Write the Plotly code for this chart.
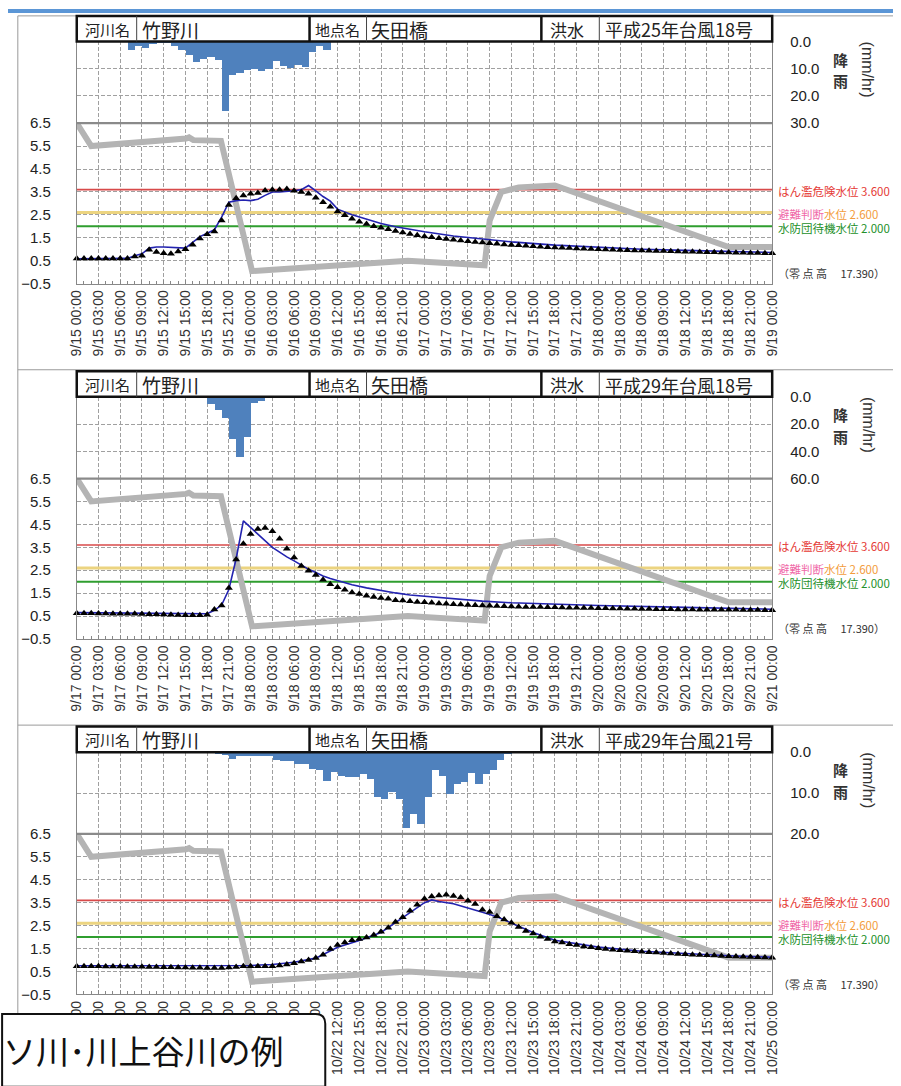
import plotly.graph_objects as go

W, H = 901, 1086

# ---------------- data ----------------
hours_axis = list(range(0, 97, 3))
panel_dates = [(9, 15), (9, 17), (10, 21)]
tick_labels = [[f"{m}/{d + h // 24:02d} {h % 24:02d}:00" for h in hours_axis] for (m, d) in panel_dates]

river_label, river_name = "河川名", "竹野川"
station_label, station_name = "地点名", "矢田橋"
flood_label = "洪水"
flood_names = ["平成25年台風18号", "平成29年台風18号", "平成29年台風21号"]
rain_max = [30, 60, 20]
rain_dtick = [10, 20, 10]

threshold_levels = [3.6, 2.6, 2.0]
threshold_names = ["はん濫危険水位", "避難判断水位", "水防団待機水位"]
zero_height = "17.390"

# hourly rainfall (mm/hr), hour index from panel start
rain1_hours = [7, 8, 9, 10, 11, 12, 13, 14, 15, 16, 17, 18, 19, 20, 21, 22, 23, 24, 25, 26, 27, 28, 29, 30, 31, 32, 33, 34]
rain1_mm = [3.2, 1.7, 2.6, 1.0, 0.5, 0.5, 2.0, 3.2, 5.0, 7.6, 6.7, 6.0, 7.0, 25.8, 12.5, 11.9, 10.7, 10.4, 10.9, 10.4,
            7.2, 9.2, 10.0, 8.8, 9.4, 3.9, 2.0, 3.2]
rain2_hours = [18, 19, 20, 21, 22, 23, 24, 25]
rain2_mm = [4.8, 9.2, 15.2, 30.8, 44.1, 29.6, 4.3, 3.1]
rain3_hours = list(range(19, 60))
rain3_mm = [0.3, 0.8, 1.6, 1.1, 1.1, 1.1, 1.1, 1.1, 1.9, 2.1, 2.1, 2.9, 2.9, 4.1, 4.4, 7.0, 4.9, 5.8, 6.0, 6.0,
            5.3, 6.6, 11.1, 11.5, 9.9, 11.4, 18.5, 15.2, 17.7, 11.1, 4.5, 5.8, 10.3, 7.8, 7.4, 5.2, 7.8, 5.5, 4.4, 1.9, 0.3]

# observed water level (hourly, triangles)
obs_hours = list(range(0, 97))
obs1 = [0.60, 0.60, 0.60, 0.60, 0.60, 0.60, 0.60, 0.60, 0.68, 0.72, 0.98, 0.88, 0.82, 0.80, 0.90, 1.00, 1.20, 1.47,
        1.65, 1.77, 2.25, 2.93, 3.22, 3.35, 3.42, 3.45, 3.56, 3.60, 3.60, 3.63, 3.55, 3.50, 3.42, 3.25, 3.05, 2.85,
        2.65, 2.48, 2.33, 2.20, 2.10, 2.00, 1.94, 1.87, 1.80, 1.73, 1.67, 1.61, 1.56, 1.52, 1.48, 1.45, 1.41, 1.38,
        1.35, 1.32, 1.29, 1.26, 1.24, 1.21, 1.19, 1.17, 1.15, 1.13, 1.11, 1.09, 1.08, 1.06, 1.05, 1.03, 1.02, 1.01,
        1.00, 0.99, 0.98, 0.97, 0.96, 0.95, 0.94, 0.93, 0.92, 0.92, 0.91, 0.90, 0.89, 0.89, 0.88, 0.87, 0.87, 0.86,
        0.86, 0.85, 0.85, 0.84, 0.84, 0.83, 0.83]
obs2 = [0.62, 0.62, 0.62, 0.61, 0.61, 0.60, 0.60, 0.60, 0.60, 0.59, 0.58, 0.58, 0.57, 0.56, 0.55,
        0.54, 0.54, 0.54, 0.56,
        0.79, 0.96, 1.72, 2.97, 3.65, 4.08, 4.30, 4.34, 4.20, 3.87, 3.44, 3.05, 2.68, 2.48, 2.29, 2.08, 1.89, 1.76,
        1.65, 1.53, 1.46, 1.39, 1.33, 1.29, 1.25, 1.19, 1.18, 1.15, 1.11, 1.10, 1.08, 1.05, 1.04, 1.01, 1.00, 0.98, 0.97,
        0.96, 0.95, 0.94, 0.93, 0.92, 0.91, 0.90, 0.90, 0.89, 0.88, 0.88, 0.87, 0.86, 0.86, 0.85, 0.85, 0.84, 0.84,
        0.83, 0.83, 0.82, 0.82, 0.81, 0.81, 0.80, 0.80, 0.80, 0.79, 0.79, 0.79, 0.78, 0.78, 0.78, 0.77, 0.77, 0.77,
        0.76, 0.76, 0.76, 0.75, 0.75]
obs3 = [0.72, 0.72, 0.72, 0.72, 0.71, 0.71, 0.71, 0.70, 0.70, 0.70, 0.69, 0.69, 0.68, 0.68, 0.67, 0.67, 0.66, 0.66,
        0.65, 0.65, 0.65, 0.67, 0.69, 0.72, 0.72, 0.72, 0.72, 0.73, 0.76, 0.80, 0.86, 0.93, 1.00, 1.09, 1.23, 1.48,
        1.65, 1.76, 1.86, 1.91, 1.98, 2.09, 2.23, 2.41, 2.66, 2.86, 3.15, 3.41, 3.67, 3.77, 3.81, 3.84, 3.79, 3.72,
        3.58, 3.44, 3.19, 3.09, 2.91, 2.76, 2.62, 2.44, 2.26, 2.15, 2.01, 1.91, 1.81, 1.76, 1.69, 1.65, 1.59, 1.55,
        1.51, 1.48, 1.45, 1.42, 1.40, 1.38, 1.36, 1.34, 1.32, 1.30, 1.28, 1.26, 1.25, 1.23, 1.22, 1.20, 1.19, 1.17,
        1.16, 1.15, 1.14, 1.13, 1.12, 1.11, 1.10]

# calculated water level (blue line)
calc1_hours = [0, 7, 8, 9, 10, 11, 12, 13, 14, 15, 16, 17, 18, 19, 20, 21, 22, 23, 24, 25, 26, 27, 28, 29, 30, 31, 32,
               33, 34, 35, 36, 38, 40, 42, 44, 46, 48, 52, 56, 60, 66, 72, 78, 84, 90, 96]
calc1_level = [0.58, 0.60, 0.72, 0.80, 1.05, 1.10, 1.10, 1.08, 1.05, 1.05, 1.30, 1.55, 1.70, 1.85, 2.40, 3.05, 3.12,
               3.15, 3.12, 3.18, 3.35, 3.50, 3.50, 3.52, 3.55, 3.60, 3.78, 3.55, 3.30, 3.10, 2.75, 2.50, 2.30, 2.12,
               1.98, 1.86, 1.76, 1.58, 1.44, 1.32, 1.18, 1.08, 1.00, 0.95, 0.90, 0.86]
calc2_hours = [0, 14, 18, 19, 20, 21, 22, 23, 24, 25, 26, 27, 28, 29, 30, 31, 32, 33, 34, 35, 36, 38, 40, 42, 44, 46,
               48, 50, 52, 54, 56, 60, 66, 72, 84, 96]
calc2_level = [0.65, 0.60, 0.60, 0.75, 0.98, 1.66, 3.00, 4.65, 4.36, 4.08, 3.79, 3.50, 3.29, 3.08, 2.91, 2.72, 2.54,
               2.40, 2.25, 2.14, 2.04, 1.87, 1.73, 1.61, 1.51, 1.42, 1.37, 1.31, 1.25, 1.19, 1.15, 1.08, 1.01, 0.96,
               0.88, 0.80]
calc3_hours = [0, 18, 24, 27, 30, 33, 35, 36, 39, 42, 45, 48, 49, 50, 52, 54, 56, 58, 60, 63, 66, 69, 72, 78, 84, 90, 96]
calc3_level = [0.75, 0.74, 0.76, 0.80, 0.90, 1.08, 1.40, 1.55, 1.85, 2.20, 2.85, 3.50, 3.62, 3.55, 3.45, 3.28, 3.08,
               2.88, 2.62, 2.20, 1.86, 1.70, 1.56, 1.38, 1.27, 1.18, 1.12]

# grey reference line (same in all panels)
grey_hours = [0, 2, 15.1, 15.5, 16.1, 19.9, 24.2, 45.7, 56.3, 57.0, 58.6, 61, 66, 90, 96]
grey_level = [6.5, 5.5, 5.83, 5.88, 5.76, 5.73, 0.05, 0.5, 0.3, 2.25, 3.5, 3.7, 3.78, 1.1, 1.1]

rain_data = [(rain1_hours, rain1_mm), (rain2_hours, rain2_mm), (rain3_hours, rain3_mm)]
obs_data = [obs1, obs2, obs3]
calc_data = [(calc1_hours, calc1_level), (calc2_hours, calc2_level), (calc3_hours, calc3_level)]

# ---------------- layout helpers ----------------
JP = "Noto Sans CJK JP"
NUM = "Liberation Sans, Arial"
X0, X1 = 70, 778
offsets = [0, 361, 722]
LEV_TOP, LEV_BOT, RAIN_TOP, HEAD_TOP = 116, 279, 33, 7


def fx(px):
    return px / W


def fy(py):
    return 1 - py / H


def lev_px(v, off):
    return LEV_TOP + off + (6.5 - v) * (LEV_BOT - LEV_TOP) / 7.0


fig = go.Figure()
shapes = []
annotations = []
layout_axes = {}

thr_line_colors = ["#d84a4a", "#ecd480", "#2f9e2f"]
thr_line_widths = [1.6, 3, 2]
GRID_DASH = "4px,2px"

for p in range(3):
    off = offsets[p]
    xa = "x" if p == 0 else f"x{p + 1}"
    yl = "y" if p == 0 else f"y{2 * p + 1}"
    yr = f"y{2 * p + 2}"
    xkey = "xaxis" if p == 0 else f"xaxis{p + 1}"
    ylkey = "yaxis" if p == 0 else f"yaxis{2 * p + 1}"
    yrkey = f"yaxis{2 * p + 2}"

    rh, rm = rain_data[p]
    fig.add_trace(go.Bar(x=[h + 0.5 for h in rh], y=rm, width=1.0, marker=dict(color="#4f81bd", line=dict(width=0)),
                         xaxis=xa, yaxis=yr, hoverinfo="skip"))
    for v, c, w in zip(threshold_levels, thr_line_colors, thr_line_widths):
        fig.add_trace(go.Scatter(x=[0, 96], y=[v, v], mode="lines", line=dict(color=c, width=w),
                                 xaxis=xa, yaxis=yl, hoverinfo="skip"))
    fig.add_trace(go.Scatter(x=grey_hours, y=grey_level, mode="lines", line=dict(color="#b4b4b4", width=6),
                             xaxis=xa, yaxis=yl, hoverinfo="skip"))
    ch, cl = calc_data[p]
    fig.add_trace(go.Scatter(x=ch, y=cl, mode="lines", line=dict(color="#2323b0", width=1.6),
                             xaxis=xa, yaxis=yl, hoverinfo="skip"))
    fig.add_trace(go.Scatter(x=obs_hours, y=obs_data[p], mode="markers", cliponaxis=False,
                             marker=dict(symbol="triangle-up", size=7, color="black"),
                             xaxis=xa, yaxis=yl, hoverinfo="skip"))

    layout_axes[xkey] = dict(
        domain=[fx(X0), fx(X1)], range=[0, 96], anchor=yl, tickmode="array", tickvals=hours_axis,
        ticktext=tick_labels[p], tickangle=-90, tickfont=dict(family=NUM, size=14, color="#333"),
        showgrid=True, gridcolor="#a0a0a0", griddash=GRID_DASH, gridwidth=1,
        showline=True, linecolor="#888", linewidth=1, ticks="inside", ticklen=4, tickcolor="#888",
        minor=dict(tickmode="linear", tick0=0, dtick=1, ticks="inside", ticklen=3, tickcolor="#888", showgrid=False),
        zeroline=False, fixedrange=True)
    layout_axes[ylkey] = dict(
        domain=[fy(LEV_BOT + off), fy(LEV_TOP + off)], range=[-0.5, 6.5], anchor=xa, tickmode="linear",
        tick0=-0.5, dtick=1, tickformat=".1f", tickfont=dict(family=NUM, size=15, color="#222"),
        showgrid=True, gridcolor="#a0a0a0", griddash=GRID_DASH, gridwidth=1, showline=True, mirror=True,
        linecolor="#888", linewidth=1, ticks="", ticklabelstandoff=22, zeroline=False, fixedrange=True)
    layout_axes[yrkey] = dict(
        domain=[fy(LEV_TOP + off), fy(RAIN_TOP + off)], range=[rain_max[p], 0], anchor=xa, side="right",
        tickmode="linear", tick0=0, dtick=rain_dtick[p], tickformat=".1f",
        tickfont=dict(family=NUM, size=15, color="#222"), showgrid=True, gridcolor="#a0a0a0", griddash=GRID_DASH,
        gridwidth=1, showline=True, mirror=True, linecolor="#888", linewidth=1, ticks="", ticklabelstandoff=14,
        zeroline=False, fixedrange=True)

    # solid separator at 6.5
    shapes.append(dict(type="line", xref="paper", yref="paper", x0=fx(X0), x1=fx(X1),
                       y0=fy(LEV_TOP + off), y1=fy(LEV_TOP + off), line=dict(color="#8a8a8a", width=2.2),
                       layer="above"))

    # header table
    ht, hb = HEAD_TOP + off, RAIN_TOP + off
    shapes.append(dict(type="rect", xref="paper", yref="paper", x0=fx(X0), x1=fx(X1), y0=fy(hb), y1=fy(ht),
                       line=dict(color="#111", width=2.5), fillcolor="white", layer="above"))
    for xd in (307, 543):
        shapes.append(dict(type="line", xref="paper", yref="paper", x0=fx(xd), x1=fx(xd), y0=fy(hb), y1=fy(ht),
                           line=dict(color="#111", width=2.5), layer="above"))
    for xd in (131, 365, 602):
        shapes.append(dict(type="line", xref="paper", yref="paper", x0=fx(xd), x1=fx(xd), y0=fy(hb), y1=fy(ht),
                           line=dict(color="#444", width=1), layer="above"))
    hy = fy((ht + hb) / 2 + 0.5)
    for txt, xpos, sz in [(river_label, 76, 15), (river_name, 134, 19), (station_label, 311, 15),
                          (station_name, 368, 19), (flood_label, 550, 17), (flood_names[p], 606, 18)]:
        annotations.append(dict(text=txt, x=fx(xpos), y=hy, xref="paper", yref="paper", xanchor="left",
                                yanchor="middle", showarrow=False, font=dict(family=JP, size=sz, color="#222")))

    # rain axis title (stacked characters + rotated unit)
    for ch_txt, cy in (("降", 51), ("雨", 73)):
        annotations.append(dict(text=f"<b>{ch_txt}</b>", x=fx(848), y=fy(cy + off), xref="paper", yref="paper",
                                xanchor="center", yanchor="middle", showarrow=False,
                                font=dict(family=JP, size=15, color="#333")))
    annotations.append(dict(text="(mm/hr)", x=fx(876), y=fy(62 + off), xref="paper", yref="paper", textangle=90,
                            xanchor="center", yanchor="middle", showarrow=False,
                            font=dict(family=NUM, size=16, color="#333")))

    # threshold labels
    lab_texts = [
        f'<span style="color:#e53935">{threshold_names[0]} {threshold_levels[0]:.3f}</span>',
        f'<span style="color:#f06aa8">{threshold_names[1][:4]}</span>'
        f'<span style="color:#f39c3c">{threshold_names[1][4:]} {threshold_levels[1]:.3f}</span>',
        f'<span style="color:#23902a">{threshold_names[2]} {threshold_levels[2]:.3f}</span>',
    ]
    for v, t in zip(threshold_levels, lab_texts):
        annotations.append(dict(text=t, x=fx(782), y=fy(lev_px(v, off) + 1.5), xref="paper", yref="paper",
                                xanchor="left", yanchor="middle", showarrow=False,
                                font=dict(family=JP, size=11.5)))
    annotations.append(dict(text=f"（零 点 高　 {zero_height}）", x=fx(782), y=fy(268 + off), xref="paper",
                            yref="paper", xanchor="left", yanchor="middle", showarrow=False,
                            font=dict(family=JP, size=11, color="#333")))

# frame lines
shapes.append(dict(type="rect", xref="paper", yref="paper", x0=0, x1=1, y0=fy(4), y1=1,
                   line=dict(width=0), fillcolor="#5b96d6", layer="above"))
shapes.append(dict(type="line", xref="paper", yref="paper", x0=fx(10), x1=fx(10), y0=0, y1=fy(7),
                   line=dict(color="#9a9a9a", width=1), layer="above"))
for yy in (7, 366.5, 727.5):
    shapes.append(dict(type="line", xref="paper", yref="paper", x0=fx(10), x1=1, y0=fy(yy), y1=fy(yy),
                       line=dict(color="#9a9a9a", width=1), layer="below"))

# bottom-left caption box (rounded)
bx0, bx1, by0, by1, r = -6, 323, 1021, 1095, 10
path = (f"M {fx(bx0)},{fy(by0)} L {fx(bx1 - r)},{fy(by0)} Q {fx(bx1)},{fy(by0)} {fx(bx1)},{fy(by0 + r)} "
        f"L {fx(bx1)},{fy(by1)} L {fx(bx0)},{fy(by1)} Z")
shapes.append(dict(type="path", xref="paper", yref="paper", path=path, fillcolor="white",
                   line=dict(color="#111", width=2), layer="above"))
annotations.append(dict(text="ソ川･川上谷川の例", x=fx(-7), y=fy(1058), xref="paper", yref="paper",
                        xanchor="left", yanchor="middle", showarrow=False,
                        font=dict(family=JP, size=33, color="#111")))

fig.update_layout(
    width=W, height=H, margin=dict(l=0, r=0, t=0, b=0), paper_bgcolor="white", plot_bgcolor="white",
    showlegend=False, barmode="overlay", bargap=0, shapes=shapes, annotations=annotations,
    font=dict(family=NUM, color="#222"), **layout_axes)

fig.write_html("out.html", config={"displayModeBar": False},
               post_script="document.body.style.margin='0';document.body.style.overflow='hidden';")
